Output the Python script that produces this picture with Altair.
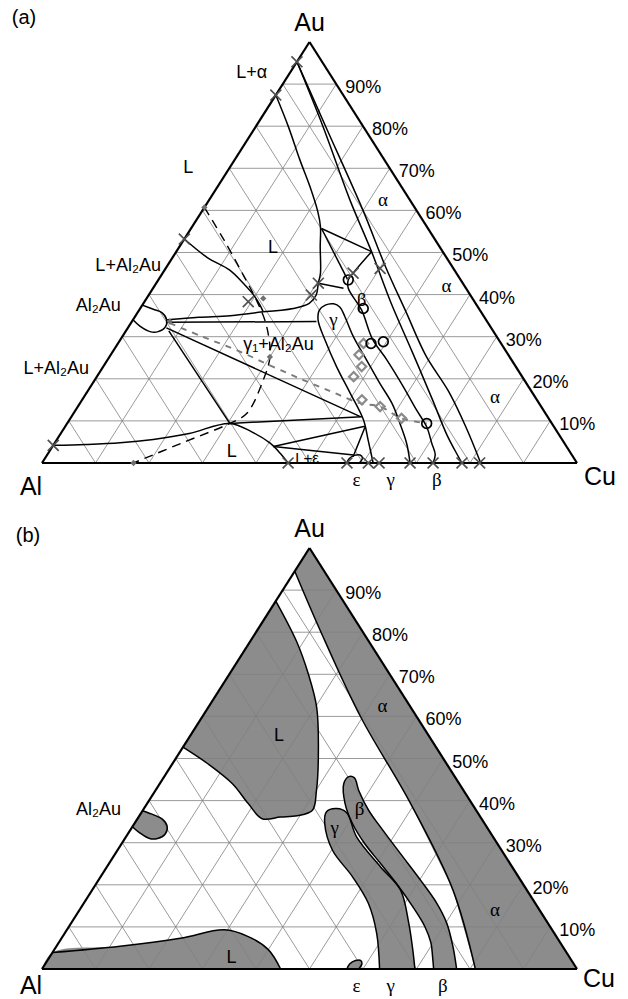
import altair as alt
import pandas as pd

# Al-Au-Cu isothermal section.
# (a) phase boundaries, tie lines and examined alloys
# (b) single-phase fields shaded
# Every point is a composition: (Cu at.%, Au at.%), Al is the balance.

FILL_GRAY = "#8c8c8c"
GRID_GRAY = "#808080"
SANS = "Liberation Sans"
SERIF = "Liberation Serif"

GRID_LEVELS = [10, 20, 30, 40, 50, 60, 70, 80, 90]
PERCENT_LABELS = ["10%", "20%", "30%", "40%", "50%", "60%", "70%", "80%", "90%"]

# both triangles share one y scale; panel (b) sits lower by this many Au-% units
PANEL_SHIFT = {"a": 0.0, "b": -120.2}

# ---------------- panel (a) ----------------
a_liquid_upper = [(0, 87.4), (6.1, 79.9), (12.2, 72.0), (17.3, 65.6), (21.7, 59.7),
                  (24.0, 56.1), (26.3, 51.4), (29.5, 45.1), (30.3, 42.7), (31.3, 39.9),
                  (31.0, 37.9), (28.6, 36.7), (23.4, 35.9)]
a_liquid_left = [(0, 53.2), (6.5, 48.8), (12.2, 45.8), (16.5, 42.5), (19.5, 40.0),
                 (22.0, 37.5), (23.4, 35.9)]
a_tie_blob_curved = [(6.4, 34.0), (12.0, 34.6), (17.7, 35.0), (23.4, 35.9)]
a_tie_blob_gamma = [(6.5, 33.4), (34.5, 33.6)]
a_tie_blob_low = [(7.2, 32.1), (54.0, 11.0)]
a_tie_blob_peak = [(8.0, 31.4), (30.4, 9.4)]
a_tie_peak_gamma = [(30.4, 9.4), (54.3, 11.0)]
a_liquid_lower = [(0, 4.2), (6.0, 4.4), (12.2, 4.8), (18.0, 5.6), (24.0, 7.0), (30.4, 9.4),
                  (35.5, 7.4), (40.3, 4.7), (43.5, 2.2), (46.0, 0)]
a_tie_liq_gamma = [(41.3, 3.9), (56.0, 8.7)]
a_tie_liq_eps = [(41.3, 3.9), (57.3, 1.9)]
a_tie_gamma_eps = [(56.1, 8.6), (57.4, 1.5)]
a_eps_loop = [(57.0, 0), (56.9, 1.0), (57.5, 1.8), (58.5, 1.9), (59.3, 1.2), (59.3, 0)]
a_alpha_boundary = [(0, 95.3), (13.0, 80.0), (30.0, 60.0), (41.0, 46.5), (50.0, 36.0),
                    (59.0, 25.5), (67.5, 17.0), (75.0, 8.5), (82.0, 0)]
a_beta_right = [(0, 95.3), (12.5, 80.0), (26.3, 62.5), (36.5, 50.2), (46.0, 38.3),
                (56.0, 26.4), (65.5, 15.0), (72.5, 6.5), (78.5, 0)]
a_beta_left = [(36.5, 50.2), (35.6, 45.1), (35.5, 43.5), (36.5, 41.5), (41.6, 36.3),
               (47.0, 29.5), (52.2, 24.5), (58.5, 18.1), (63.7, 12.6), (67.6, 8.6),
               (70.5, 4.7), (72.5, 2.0), (73.1, 0)]
a_gamma_field = [(61.9, 0), (58.2, 5.5), (55.0, 10.2), (49.3, 16.6), (43.6, 22.9),
                 (38.3, 29.2), (34.6, 34.0), (33.7, 36.3), (34.2, 37.5), (35.6, 37.8),
                 (37.2, 37.0), (39.2, 34.8), (43.2, 30.0), (48.4, 24.5), (53.7, 18.9),
                 (58.3, 14.2), (62.2, 9.4), (65.8, 4.7), (68.8, 0)]
a_al2au_field = [(0, 37.5), (2.55, 36.5), (4.55, 35.7), (6.3, 34.0), (6.9, 32.2),
                 (6.1, 31.2), (4.6, 31.2), (2.05, 32.5), (0, 34.0)]
a_tie_top_1 = [(24.4, 55.7), (36.5, 50.2)]
a_tie_top_2 = [(24.4, 55.7), (35.3, 43.6)]
a_tie_top_3 = [(30.3, 42.7), (35.6, 41.5)]
a_dashed_black = [(0, 60.7), (7.7, 52.8), (15.8, 44.1), (20.9, 38.5), (25.8, 32.4),
                  (30.0, 25.2), (31.5, 19.7), (32.4, 11.8), (30.4, 9.4), (23.7, 4.7), (17.1, 0)]
a_dashed_gray = [(7.3, 33.2), (15.0, 30.0), (23.0, 26.8), (31.0, 23.2), (39.0, 19.7),
                 (46.0, 16.8), (52.3, 14.2), (56.5, 13.4), (61.9, 10.6), (67.2, 9.4)]

a_circles = [(35.5, 43.5), (41.7, 36.7), (47.3, 28.4), (49.4, 28.8), (67.2, 9.4)]
a_crosses = [(0, 95.3), (0, 87.4), (0, 53.2), (0, 4.2), (19.4, 38.3), (30.3, 42.7),
             (35.6, 45.1), (40.1, 46.2), (30.4, 39.9), (46.0, 0), (57.0, 0), (61.0, 0),
             (63.0, 0), (68.8, 0), (73.1, 0), (78.5, 0), (81.8, 0)]
a_diamonds_open = [(45.9, 28.4), (46.4, 25.7), (48.3, 22.9), (48.0, 20.5), (52.3, 15.0),
                   (56.5, 13.4), (61.9, 10.6)]
a_diamonds_filled = [(0, 60.7), (17.1, 0), (30.0, 25.2), (21.8, 39.1), (7.1, 33.6)]

# ---------------- panel (b) ----------------
b_alpha_boundary = [(81.0, 0), (67.4, 18.8), (48.5, 40.1), (29.7, 59.8), (11.9, 80.3), (0, 94.5)]
b_liquid_upper = [(0, 87.4), (8.6, 77.9), (14.8, 70.0), (20.3, 62.1), (26.5, 50.3),
                  (30.1, 42.4), (31.7, 37.7), (29.5, 36.4), (26.5, 36.1), (23.3, 35.7),
                  (18.9, 39.3), (13.6, 44.0), (6.7, 48.7), (0, 52.7)]
b_liquid_lower = [(0, 3.9), (11.9, 5.4), (22.2, 7.3), (29.4, 9.3), (34.7, 7.7),
                  (40.0, 4.6), (44.6, 0)]
b_al2au_field = [(0, 37.6), (2.6, 36.6), (4.7, 35.6), (6.5, 33.8), (7.0, 32.0),
                 (6.1, 31.0), (4.6, 31.0), (2.0, 32.4), (0, 33.8)]
b_eps_field = [(57.0, 0), (56.9, 1.2), (57.6, 2.0), (58.6, 2.0), (59.2, 1.2), (59.2, 0)]
b_gamma_field = [(63.1, 0), (58.3, 8.5), (53.2, 15.6), (47.1, 21.9), (40.2, 28.2),
                 (35.6, 34.5), (34.5, 37.3), (36.0, 38.1), (38.4, 37.1), (43.1, 31.4),
                 (51.1, 24.3), (57.6, 18.8), (63.1, 10.9), (67.0, 4.6), (69.7, 0)]
b_beta_field = [(73.2, 0), (71.5, 3.0), (69.6, 6.2), (66.5, 10.1), (61.9, 14.8),
                (56.1, 20.3), (50.7, 25.1), (45.4, 29.8), (40.8, 34.5), (37.0, 39.3),
                (34.4, 44.0), (34.5, 45.7), (35.7, 45.4), (38.0, 42.4), (42.2, 37.7),
                (47.2, 33.0), (53.3, 27.4), (60.2, 21.1), (66.0, 15.6), (70.2, 10.9),
                (74.1, 5.4), (77.5, 0)]

# ---------------- labels ----------------
a_labels_sans = [("L+α", -7.1, 92.6), ("L", -7.7, 70.1), ("L+Al₂Au", -7.3, 46.8),
                 ("Al₂Au", -8.2, 37.4), ("L+Al₂Au", -8.5, 22.3), ("L", 17.7, 51.0),
                 ("γ₁+Al₂Au", 30.2, 28.0), ("L", 34.1, 2.7)]
a_labels_small = [("L+ε", 48.9, 1.3)]
a_labels_serif = [("α", 32.5, 62.5), ("α", 54.6, 42.0), ("α", 76.8, 15.7), ("β", 40.4, 38.7),
                  ("γ", 37.5, 34.0), ("ε", 60.8, -4.0), ("γ", 67.2, -4.0), ("β", 75.8, -4.0)]
b_labels_sans = [("Al₂Au", -8.3, 37.7), ("L", 16.6, 55.4), ("L", 34.1, 2.6)]
b_labels_serif = [("α", 32.4, 62.5), ("α", 77.7, 13.9), ("β", 40.3, 38.1), ("γ", 38.0, 33.4),
                  ("ε", 60.8, -4.0), ("γ", 67.2, -4.0), ("β", 76.9, -4.0)]


def tern(cu, au, panel):
    """Composition -> ternary plot coordinates (x along the Al-Cu base, y = Au)."""
    return cu + au / 2.0, au + PANEL_SHIFT[panel]


def paths(items):
    rows = []
    for panel, name, pts in items:
        for i, (cu, au) in enumerate(pts):
            x, y = tern(cu, au, panel)
            rows.append({"id": f"{panel}:{name}", "i": i, "x": x, "y": y})
    return pd.DataFrame(rows)


def points(panel, pts):
    rows = []
    for cu, au in pts:
        x, y = tern(cu, au, panel)
        rows.append({"x": x, "y": y})
    return pd.DataFrame(rows)


def segments(items):
    rows = []
    for panel, (c1, a1), (c2, a2) in items:
        x1, y1 = tern(c1, a1, panel)
        x2, y2 = tern(c2, a2, panel)
        rows.append({"x": x1, "y": y1, "x2": x2, "y2": y2})
    return pd.DataFrame(rows)


def labels(panel, items):
    rows = []
    for t, cu, au in items:
        x, y = tern(cu, au, panel)
        rows.append({"t": t, "x": x, "y": y})
    return pd.DataFrame(rows)


XS = alt.Scale(domain=[0, 100], nice=False, zero=False)
YS = alt.Scale(domain=[-120.2, 100], nice=False, zero=False)
X = alt.X("x:Q", scale=XS, axis=None)
Y = alt.Y("y:Q", scale=YS, axis=None)

# grid and triangle frames
grid_items, edge_items = [], []
for p in ["a", "b"]:
    for k in GRID_LEVELS:
        grid_items.append((p, (0, k), (100 - k, k)))
        grid_items.append((p, (k, 0), (k, 100 - k)))
        grid_items.append((p, (100 - k, 0), (0, 100 - k)))
    edge_items += [(p, (0, 0), (100, 0)), (p, (100, 0), (0, 100)), (p, (0, 100), (0, 0))]

grid = alt.Chart(segments(grid_items)).mark_rule(color=GRID_GRAY, strokeWidth=0.8).encode(
    x=X, y=Y, x2="x2:Q", y2="y2:Q")
edges = alt.Chart(segments(edge_items)).mark_rule(color="black", strokeWidth=2.2).encode(
    x=X, y=Y, x2="x2:Q", y2="y2:Q")

# shaded single-phase fields of panel (b)
fill_curved = paths([
    ("b", "Lup", b_liquid_upper),
    ("b", "Llo", [(0, 0)] + b_liquid_lower),
    ("b", "al2au", b_al2au_field),
    ("b", "eps", b_eps_field),
    ("b", "gamma", b_gamma_field),
    ("b", "beta", b_beta_field),
])
fill_alpha = paths([("b", "alpha", [(100, 0)] + b_alpha_boundary + [(0, 100)])])

fills_c = alt.Chart(fill_curved).mark_line(
    fill=FILL_GRAY, strokeOpacity=0, interpolate="catmull-rom").encode(
    x=X, y=Y, detail="id:N", order="i:Q")
fills_l = alt.Chart(fill_alpha).mark_line(
    fill=FILL_GRAY, strokeOpacity=0, interpolate="linear").encode(
    x=X, y=Y, detail="id:N", order="i:Q")

solid_df = paths([
    ("a", "liq_up", a_liquid_upper), ("a", "liq_left", a_liquid_left),
    ("a", "t_blob_c", a_tie_blob_curved), ("a", "t_blob_g", a_tie_blob_gamma),
    ("a", "t_blob_low", a_tie_blob_low), ("a", "t_blob_peak", a_tie_blob_peak),
    ("a", "t_peak_g", a_tie_peak_gamma), ("a", "liq_low", a_liquid_lower),
    ("a", "t_lg", a_tie_liq_gamma), ("a", "t_le", a_tie_liq_eps),
    ("a", "t_ge", a_tie_gamma_eps), ("a", "eps", a_eps_loop),
    ("a", "alpha", a_alpha_boundary), ("a", "beta_r", a_beta_right),
    ("a", "beta_l", a_beta_left), ("a", "gamma", a_gamma_field),
    ("a", "al2au", a_al2au_field), ("a", "t1", a_tie_top_1),
    ("a", "t2", a_tie_top_2), ("a", "t3", a_tie_top_3),
    ("b", "alpha", b_alpha_boundary), ("b", "Lup", b_liquid_upper),
    ("b", "Llo", b_liquid_lower), ("b", "al2au", b_al2au_field),
    ("b", "eps", b_eps_field), ("b", "gamma", b_gamma_field),
    ("b", "beta", b_beta_field),
])
solid = alt.Chart(solid_df).mark_line(
    color="black", strokeWidth=1.5, interpolate="catmull-rom").encode(
    x=X, y=Y, detail="id:N", order="i:Q")

dash_black = alt.Chart(paths([("a", "dash", a_dashed_black)])).mark_line(
    color="black", strokeWidth=1.4, strokeDash=[9, 6], interpolate="catmull-rom").encode(
    x=X, y=Y, detail="id:N", order="i:Q")
dash_gray = alt.Chart(paths([("a", "gdash", a_dashed_gray)])).mark_line(
    color="#7a7a7a", strokeWidth=1.9, strokeDash=[6, 6], interpolate="catmull-rom").encode(
    x=X, y=Y, detail="id:N", order="i:Q")

circles = alt.Chart(points("a", a_circles)).mark_point(
    shape="circle", size=95, filled=False, stroke="black", strokeWidth=1.7, opacity=1).encode(x=X, y=Y)
crosses = alt.Chart(points("a", a_crosses)).mark_point(
    shape="M-1,-1L1,1M-1,1L1,-1", size=120, filled=False, stroke="#505050",
    strokeWidth=1.7, opacity=1).encode(x=X, y=Y)
dia_open = alt.Chart(points("a", a_diamonds_open)).mark_point(
    shape="diamond", size=85, filled=False, stroke="#8a8a8a", strokeWidth=2.2, opacity=1).encode(x=X, y=Y)
dia_fill = alt.Chart(points("a", a_diamonds_filled)).mark_point(
    shape="diamond", size=40, filled=True, color="#707070", opacity=1).encode(x=X, y=Y)


def text_layer(df, font, size, **kw):
    return alt.Chart(df).mark_text(font=font, fontSize=size, color="black", **kw).encode(
        x=X, y=Y, text="t:N")


sans_df = pd.concat([labels("a", a_labels_sans), labels("b", b_labels_sans)])
serif_df = pd.concat([labels("a", a_labels_serif), labels("b", b_labels_serif)])
small_df = labels("a", a_labels_small)

pct_rows = []
for p in ["a", "b"]:
    for k, t in zip(GRID_LEVELS, PERCENT_LABELS):
        x, y = tern(100 - k, k, p)
        pct_rows.append({"t": t, "x": x, "y": y})
pct_df = pd.DataFrame(pct_rows)


def vertex_df(text, cu, au, panels):
    return pd.DataFrame([{"t": text, "x": tern(cu, au, p)[0], "y": tern(cu, au, p)[1]} for p in panels])


apex_df = vertex_df("Au", 0, 100, "ab")
al_a = vertex_df("Al", 0, 0, "a")
al_b = vertex_df("Al", 0, 0, "b")
cu_a = vertex_df("Cu", 100, 0, "a")
cu_b = vertex_df("Cu", 100, 0, "b")
tag_a = pd.DataFrame([{"t": "(a)", "x": 0.0, "y": tern(0, 100, "a")[1]}])
tag_b = pd.DataFrame([{"t": "(b)", "x": 0.0, "y": tern(0, 100, "b")[1]}])

texts = [
    text_layer(sans_df, SANS, 18, align="center", baseline="middle"),
    text_layer(small_df, SANS, 15, align="center", baseline="middle"),
    text_layer(serif_df, SERIF, 19, align="center", baseline="middle"),
    text_layer(pct_df, SANS, 18, align="left", baseline="middle", dx=9, dy=4),
    text_layer(apex_df, SANS, 25, align="center", baseline="middle", dy=-19),
    text_layer(al_a, SANS, 25, align="center", baseline="middle", dx=-11, dy=24),
    text_layer(al_b, SANS, 25, align="center", baseline="middle", dx=-11, dy=17),
    text_layer(cu_a, SANS, 25, align="center", baseline="middle", dx=23, dy=14),
    text_layer(cu_b, SANS, 25, align="center", baseline="middle", dx=22, dy=10),
    text_layer(tag_a, SANS, 20, align="center", baseline="middle", dx=-18, dy=-24),
    text_layer(tag_b, SANS, 20, align="center", baseline="middle", dx=-14, dy=-12),
]

chart = alt.layer(
    fills_l, fills_c, grid, dash_gray, dash_black, solid, edges,
    dia_open, dia_fill, circles, crosses, *texts
).properties(
    width=535, height=927,
    padding={"left": 42, "top": 42, "right": 51, "bottom": 30},
    autosize=alt.AutoSizeParams(type="none"),
    background="white",
).configure_view(strokeWidth=0)

chart.save("out.html", embed_options={"renderer": "svg", "actions": False})
